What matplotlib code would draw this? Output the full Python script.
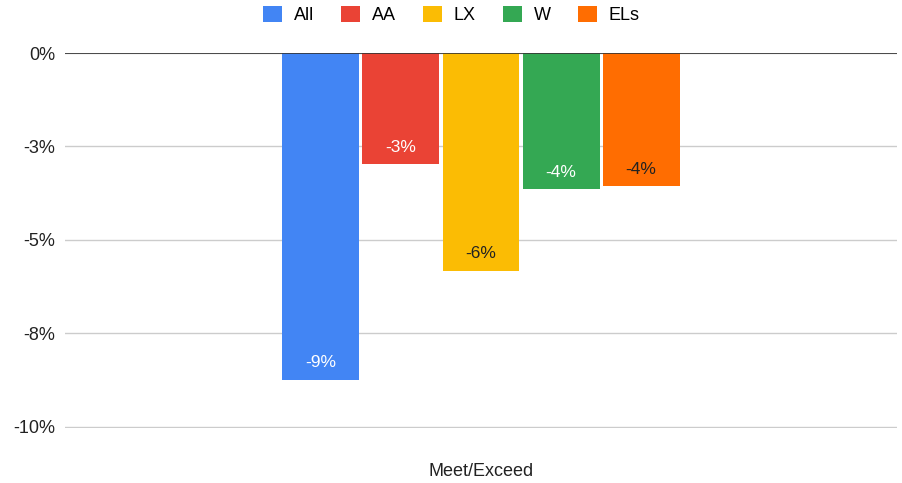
import matplotlib
matplotlib.use("Agg")
from matplotlib import pyplot as plt
from matplotlib.patches import Patch

plt.rcParams['font.family'] = ['Liberation Sans', 'DejaVu Sans']

groups = ["All", "AA", "LX", "W", "ELs"]
values = [-8.74, -2.98, -5.83, -3.64, -3.56]
labels = ["-9%", "-3%", "-6%", "-4%", "-4%"]
colors = ["#4285f4", "#ea4335", "#fbbc04", "#34a853", "#ff6d01"]
label_colors = ["white", "white", "#222222", "white", "#222222"]
category = "Meet/Exceed"
yticks = [0, -2.5, -5, -7.5, -10]
ytick_labels = ["0%", "-3%", "-5%", "-8%", "-10%"]

fig = plt.figure(figsize=(9.03, 4.83), dpi=100)
ax = fig.add_axes([65 / 903, 55 / 483, 832 / 903, 375 / 483])

width = 0.0925
gap = 0.0962
xs = [(i - 2) * gap for i in range(len(groups))]
bars = ax.bar(xs, values, width=width, color=colors, zorder=3)

# 数据标签，放在柱子底端内侧
for b, lab, c in zip(bars, labels, label_colors):
    ax.annotate(lab, (b.get_x() + b.get_width() / 2, b.get_height()),
                xytext=(0, 17), textcoords="offset pixels",
                ha="center", va="center", color=c, fontsize=12.5, zorder=4)

ax.set_xlim(-0.5, 0.5)
ax.set_ylim(-10.03, 0)
ax.set_yticks(yticks)
ax.set_yticklabels(ytick_labels, fontsize=13, color="#222222")
ax.set_xticks([0])
ax.set_xticklabels([category], fontsize=13, color="#222222")
ax.tick_params(axis="both", length=0)
ax.tick_params(axis="y", pad=7)
ax.tick_params(axis="x", pad=25)
ax.grid(axis="y", color="#cccccc", linewidth=1, zorder=0)
ax.axhline(0, color="#333333", linewidth=1.2, zorder=5)
for s in ax.spines.values():
    s.set_visible(False)

handles = [Patch(facecolor=c, label=g) for g, c in zip(groups, colors)]
fig.legend(handles=handles, loc="upper center", bbox_to_anchor=(0.5, 1.022),
           ncol=5, frameon=False, fontsize=13, handlelength=1.05, handleheight=1.05,
           columnspacing=1.5, handletextpad=0.65)

fig.savefig("out.png", dpi=100)
